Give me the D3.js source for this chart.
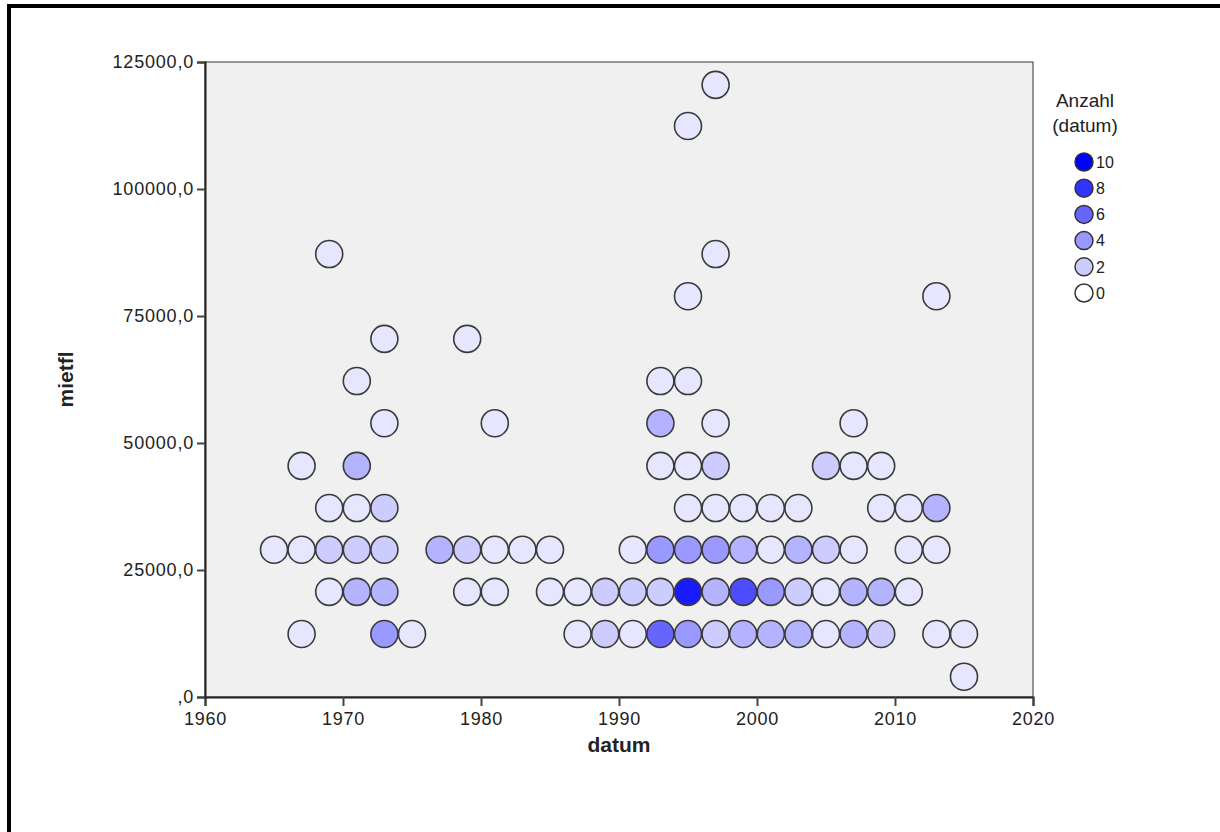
<!DOCTYPE html>
<html>
<head>
<meta charset="utf-8">
<script src="https://d3js.org/d3.v7.min.js"></script>
<style>
  body { margin: 0; background: #fff; }
  text { font-family: "Liberation Sans", Arial, sans-serif; fill: #222; }
</style>
</head>
<body>
<svg width="1220" height="832"></svg>
<script>
// datum (year), mietfl (value) and count of overlapping cases per point
var datum = [
  2015,
  1967,1973,1975,1987,1989,1991,1993,1995,1997,1999,2001,2003,2005,2007,2009,2013,2015,
  1969,1971,1973,1979,1981,1985,1987,1989,1991,1993,1995,1997,1999,2001,2003,2005,2007,2009,2011,
  1965,1967,1969,1971,1973,1977,1979,1981,1983,1985,1991,1993,1995,1997,1999,2001,2003,2005,2007,2011,2013,
  1969,1971,1973,1995,1997,1999,2001,2003,2009,2011,2013,
  1967,1971,1993,1995,1997,2005,2007,2009,
  1973,1981,1993,1997,2007,
  1971,1993,1995,
  1973,1979,
  1995,2013,
  1969,1997,
  1995,
  1997
];
var mietfl = [
  4000,
  12400,12400,12400,12400,12400,12400,12400,12400,12400,12400,12400,12400,12400,12400,12400,12400,12400,
  20700,20700,20700,20700,20700,20700,20700,20700,20700,20700,20700,20700,20700,20700,20700,20700,20700,20700,20700,
  29000,29000,29000,29000,29000,29000,29000,29000,29000,29000,29000,29000,29000,29000,29000,29000,29000,29000,29000,29000,29000,
  37200,37200,37200,37200,37200,37200,37200,37200,37200,37200,37200,
  45500,45500,45500,45500,45500,45500,45500,45500,
  53900,53900,53900,53900,53900,
  62200,62200,62200,
  70500,70500,
  78900,78900,
  87200,87200,
  112400,
  120500
];
var counts = [
  1,
  1,4,1,1,2,1,6,4,2,3,3,3,1,3,2,1,1,
  1,3,3,1,1,1,1,2,2,2,9,3,7,4,2,1,3,3,1,
  1,1,2,2,2,3,2,1,1,1,1,4,4,4,3,1,3,2,1,1,1,
  1,1,2,1,1,1,1,1,1,1,3,
  1,3,1,1,2,2,1,1,
  1,1,3,1,1,
  1,1,1,
  1,1,
  1,1,
  1,1,
  1,
  1
];
var xTicks = [1960, 1970, 1980, 1990, 2000, 2010, 2020];
var yTicks = [0, 25000, 50000, 75000, 100000, 125000];
var legendCounts = [10, 8, 6, 4, 2, 0];

var svg = d3.select("svg");

// outer frame
svg.append("path")
    .attr("d", "M9,832 V6 H1220")
    .attr("fill", "none")
    .attr("stroke", "#000")
    .attr("stroke-width", 4);

var plotL = 205, plotR = 1033, plotT = 62, plotB = 697;

var x = d3.scaleLinear().domain([1960, 2020]).range([plotL, plotR]);
var y = d3.scaleLinear().domain([0, 125000]).range([plotB, plotT]);
var color = d3.scaleLinear().domain([0, 10]).range(["#ffffff", "#0000ff"]);

svg.append("rect")
    .attr("x", plotL).attr("y", plotT)
    .attr("width", plotR - plotL).attr("height", plotB - plotT)
    .attr("fill", "#f0f0f0")
    .attr("stroke", "#333")
    .attr("stroke-width", 1);

var fmt = function(d){ return d === 0 ? ",0" : d + ",0"; };

var xAxis = svg.append("g")
    .attr("transform", "translate(0," + plotB + ")")
    .call(d3.axisBottom(x).tickValues(xTicks).tickFormat(d3.format("d")).tickSize(9).tickPadding(6));
var yAxis = svg.append("g")
    .attr("transform", "translate(" + plotL + ",0)")
    .call(d3.axisLeft(y).tickValues(yTicks).tickFormat(fmt).tickSize(8).tickPadding(3));

[xAxis, yAxis].forEach(function(a){
    a.select(".domain").attr("stroke", "#222").attr("stroke-width", 2);
    a.selectAll(".tick line").attr("stroke", "#444").attr("stroke-width", 2);
    a.selectAll(".tick text")
        .attr("font-size", 18)
        .attr("fill", "#222")
        .style("font-family", "Liberation Sans, Arial, sans-serif")
        .style("letter-spacing", "0.8px");
});

var pts = datum.map(function(d, i){ return { yr: d, v: mietfl[i], n: counts[i] }; });

svg.append("g").selectAll("circle")
    .data(pts)
    .enter()
    .append("circle")
        .attr("cx", function(d){ return x(d.yr); })
        .attr("cy", function(d){ return y(d.v); })
        .attr("r", 13.5)
        .attr("fill", function(d){ return color(d.n); })
        .attr("stroke", "#3a3a3a")
        .attr("stroke-width", 1.6);

// axis titles
svg.append("text")
    .attr("x", (plotL + plotR) / 2)
    .attr("y", 752)
    .attr("text-anchor", "middle")
    .attr("font-size", 21)
    .attr("font-weight", "bold")
    .text("datum");

svg.append("text")
    .attr("transform", "translate(73," + ((plotT + plotB) / 2) + ") rotate(-90)")
    .attr("text-anchor", "middle")
    .attr("font-size", 21)
    .attr("font-weight", "bold")
    .text("mietfl");

// legend
var lg = svg.append("g");
lg.append("text").attr("x", 1085).attr("y", 107).attr("text-anchor", "middle")
    .attr("font-size", 19).text("Anzahl");
lg.append("text").attr("x", 1085).attr("y", 132).attr("text-anchor", "middle")
    .attr("font-size", 19).text("(datum)");

var ly = d3.scalePoint().domain(legendCounts).range([162, 293]);
var items = lg.selectAll("g.item")
    .data(legendCounts)
    .enter()
    .append("g")
    .attr("class", "item")
    .attr("transform", function(d){ return "translate(1084," + ly(d) + ")"; });
items.append("circle")
    .attr("r", 9)
    .attr("fill", function(d){ return color(d); })
    .attr("stroke", "#333")
    .attr("stroke-width", 1.5);
items.append("text")
    .attr("x", 12)
    .attr("dy", "0.36em")
    .attr("font-size", 16)
    .text(function(d){ return d; });
</script>
</body>
</html>
